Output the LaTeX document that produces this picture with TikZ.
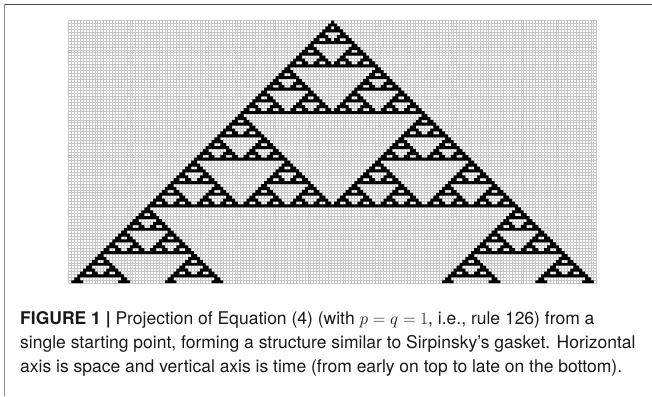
\documentclass[tikz,border=0pt]{standalone}
\usepackage{fontspec}
\setmainfont{TeX Gyre Heros}
\newcount\carow
\newcount\cacol
\newdimen\cas
\newdimen\cax
\newdimen\cay
\newdimen\catop
\def\caH{90}
\def\caM{90}
\cas=2.918pt
\catop=20.6pt
\cax=331.141pt
\def\cainitcol{%
  \expandafter\def\csname ca@\the\cacol\endcsname{0}%
  \ifnum\cacol<\numexpr\caH+1\relax
    \advance\cacol by 1\relax
    \expandafter\cainitcol
  \fi}
\def\cadrawcol{%
  \if1\csname ca@\the\cacol\endcsname
    \pgfpathrectangle{\pgfpoint{\dimexpr\cax+\cacol\cas\relax}{\cay}}{\pgfpoint{\cas}{-\cas}}%
  \fi
  \ifnum\cacol<\caH\relax
    \advance\cacol by 1\relax
    \expandafter\cadrawcol
  \fi}
\def\castepcol{%
  \edef\caL{\csname ca@\the\numexpr\cacol-1\relax\endcsname}%
  \edef\caC{\csname ca@\the\cacol\endcsname}%
  \edef\caR{\csname ca@\the\numexpr\cacol+1\relax\endcsname}%
  \ifnum\caL=\caC\relax
    \ifnum\caC=\caR\relax
      \expandafter\def\csname cb@\the\cacol\endcsname{0}%
    \else
      \expandafter\def\csname cb@\the\cacol\endcsname{1}%
    \fi
  \else
    \expandafter\def\csname cb@\the\cacol\endcsname{1}%
  \fi
  \ifnum\cacol<\caH\relax
    \advance\cacol by 1\relax
    \expandafter\castepcol
  \fi}
\def\cacopycol{%
  \expandafter\let\csname ca@\the\cacol\expandafter\endcsname\csname cb@\the\cacol\endcsname
  \ifnum\cacol<\caH\relax
    \advance\cacol by 1\relax
    \expandafter\cacopycol
  \fi}
\def\carowstep{%
  \cay=\dimexpr-\catop-\carow\cas\relax
  \cacol=-\caH\relax \cadrawcol
  \cacol=-\caH\relax \castepcol
  \cacol=-\caH\relax \cacopycol
  \advance\carow by 1\relax
  \ifnum\carow<\caM\relax
    \expandafter\carowstep
  \fi}
\begin{document}
\begin{tikzpicture}[x=1pt,y=-1pt,
  gridline/.style={draw=black!22, line width=0.55pt},
  topframe/.style={draw=black!72, line width=1.3pt},
  leftframe/.style={draw=black!45, line width=1.3pt},
  captext/.style={anchor=base west, inner sep=0pt, text=black!90,
    font=\fontsize{17.5}{21}\selectfont}]
\useasboundingbox (0,0) rectangle (652,396);
\fill[white] (0,0) rectangle (652,396);
\coordinate (ftop) at (4.5,4.5);
\coordinate (fright) at (652,4.5);
\coordinate (fbot) at (4.5,396);
\draw[topframe] (ftop) -- (fright);
\draw[leftframe] (ftop) -- (fbot);
\draw[gridline] \foreach \k in {0,...,181} {({68.521+\k*2.918},20.6) -- ++(0,262.62)};
\draw[gridline] \foreach \k in {0,...,90} {(68.521,{20.6+\k*2.918}) -- ++(528.158,0)};
\pgfsetfillcolor{black}
\carow=0 \cacol=-91 \cainitcol
\expandafter\def\csname ca@0\endcsname{1}%
\carowstep
\pgfusepath{fill}
\node[captext] (cap1) at (20,324.5) {\textbf{FIGURE 1 |} Projection of Equation (4) (with $p = q = 1$, i.e., rule 126) from a};
\node[captext] (cap2) at (20,348.5) {single starting point, forming a structure similar to Sirpinsky’s gasket. Horizontal};
\node[captext] (cap3) at (20,372.5) {axis is space and vertical axis is time (from early on top to late on the bottom).};
\end{tikzpicture}
\end{document}
